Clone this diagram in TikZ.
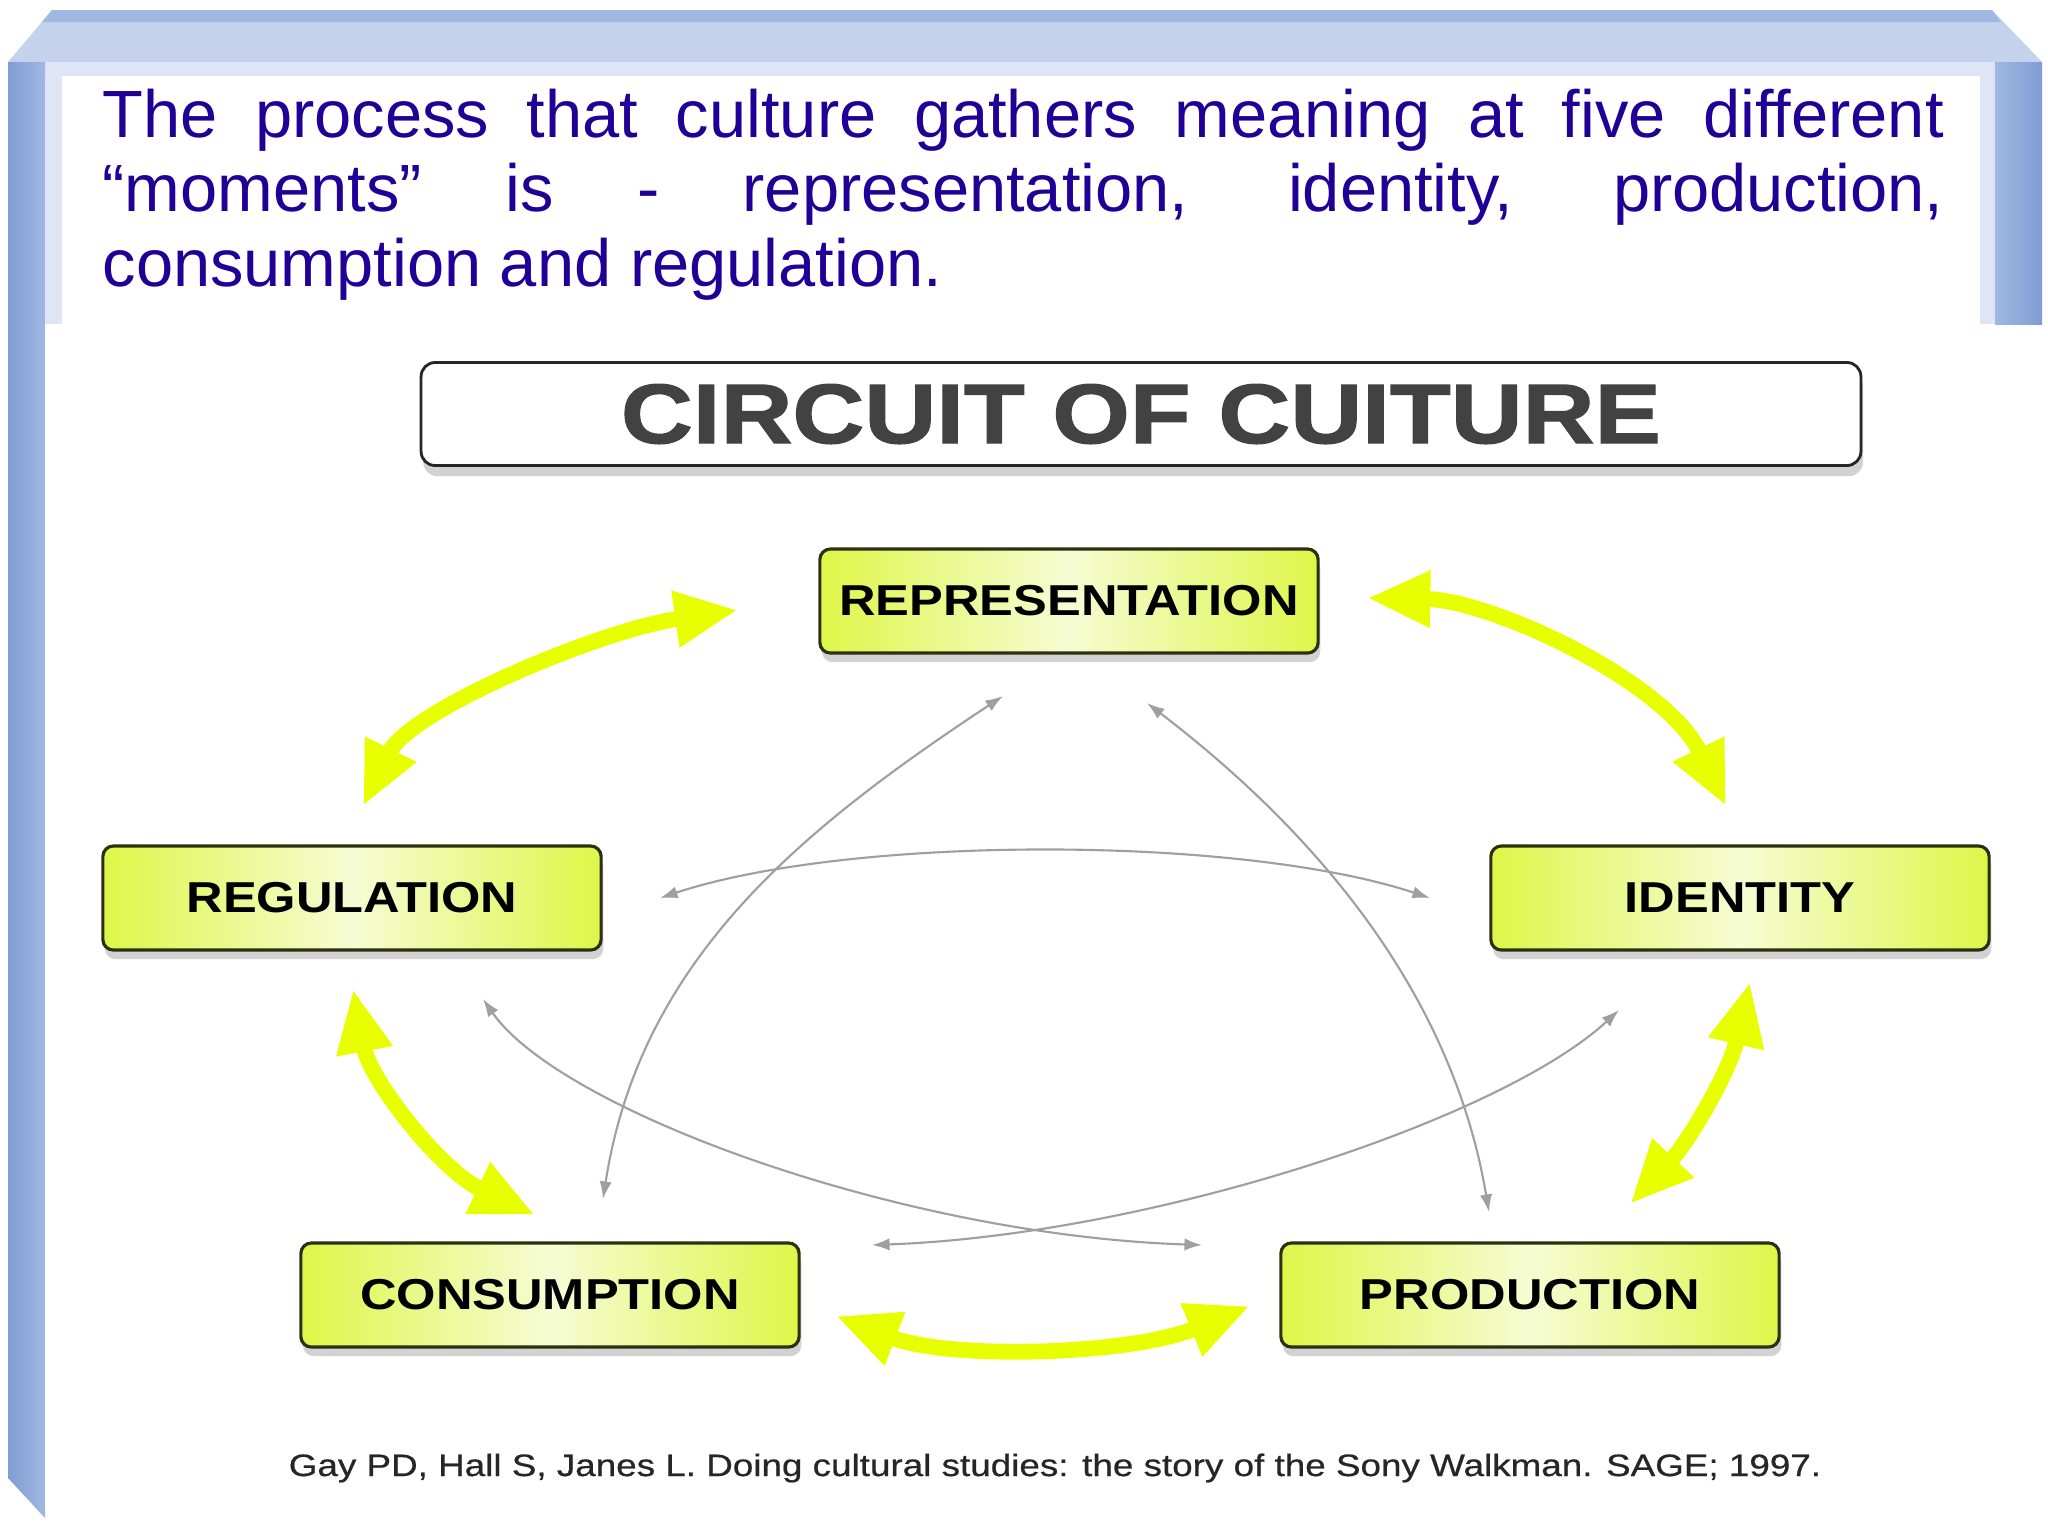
\documentclass[tikz,border=0pt]{standalone}
\usepackage{fontspec}
\setmainfont{Liberation Sans}
\newfontfamily\widebold[FakeStretch=1.17,UprightFont=* Bold]{Liberation Sans}
\newfontfamily\headfont[FakeStretch=1.18,FakeBold=1.5,UprightFont=* Bold]{Liberation Sans}
\newfontfamily\citefont[FakeStretch=1.19,FakeBold=0.6]{Liberation Sans}
\usetikzlibrary{arrows.meta,shadows}

\definecolor{slideblue}{RGB}{32,0,150}
\definecolor{framedark}{RGB}{128,156,212}
\definecolor{framemid}{RGB}{160,184,226}
\definecolor{framelight}{RGB}{196,210,236}
\definecolor{framepale}{RGB}{222,230,245}
\definecolor{boxedge}{RGB}{45,48,15}
\definecolor{boxgreen}{RGB}{222,246,72}
\definecolor{boxpale}{RGB}{246,252,212}
\definecolor{arrowyellow}{RGB}{232,255,0}
\definecolor{headgray}{RGB}{66,66,66}

\tikzset{
  moment/.style={draw=boxedge,line width=0.9pt,rounded corners=3pt,
    left color=boxgreen,right color=boxgreen,middle color=boxpale,
    minimum width=4.98cm,minimum height=1.04cm,
    drop shadow={shadow xshift=0.6pt,shadow yshift=-2.6pt,opacity=0.35},
    font=\widebold\fontsize{12.3}{14}\selectfont},
  headbox/.style={draw=black!85,line width=0.8pt,rounded corners=4pt,fill=white,
    minimum width=14.39cm,minimum height=1.03cm,text=headgray,
    drop shadow={shadow xshift=0.6pt,shadow yshift=-3pt,opacity=0.35},
    font=\headfont\fontsize{24}{28}\selectfont},
  bigarrow/.style={draw=arrowyellow,line width=4.5pt,
    {Triangle[length=18pt,width=15pt]}-{Triangle[length=18pt,width=15pt]}},
  thinarrow/.style={draw=gray!75,line width=0.6pt,
    {Latex[length=5pt,width=3.5pt]}-{Latex[length=5pt,width=3.5pt]}}
}

\begin{document}
\begin{tikzpicture}[x=0.01cm,y=-0.01cm]
\useasboundingbox (0,0) rectangle (2048,1535);
\fill[white] (0,0) rectangle (2048,1535);
% slide frame
\fill[framelight] (8,62) -- (52,10) -- (1992,10) -- (2042,62) -- cycle;
\fill[framemid] (52,10) -- (1992,10) -- (2001,22) -- (42,22) -- cycle;
\fill[framepale] (45,62) rectangle (1995,76);
\shade[left color=framedark,right color=framemid] (8,62) -- (45,62) -- (45,1518) -- (8,1478) -- cycle;
\fill[framepale] (45,76) rectangle (62,324);
\shade[left color=framemid,right color=framedark] (1995,62) -- (2042,62) -- (2042,324) -- (1995,324) -- cycle;
\fill[framepale] (1980,76) rectangle (1995,324);

\node[anchor=north west,inner sep=0,text width=18.4cm,align=justify,text=slideblue,
  font=\fontsize{19}{21.2}\selectfont] (intro) at (102,88)
  {\tolerance=10000 \hyphenpenalty=10000 \emergencystretch=0pt
   The process that culture gathers meaning at five different\linebreak
   “moments” is - representation, identity, production,\linebreak
   consumption and regulation.};

% the circuit
\node[headbox] (head) at (1141,414) {CIRCUIT OF CUITURE};

\node[moment] (rep) at (1069,601) {REPRESENTATION};
\node[moment] (reg) at (352,898) {REGULATION};
\node[moment] (ide) at (1740,898) {IDENTITY};
\node[moment] (con) at (550,1295) {CONSUMPTION};
\node[moment] (pro) at (1530,1295) {PRODUCTION};

\coordinate (regup) at (363,806);
\coordinate (repleft) at (738,610);
\coordinate (repright) at (1367,598);
\coordinate (ideup) at (1726,806);
\coordinate (idedown) at (1750,982);
\coordinate (proup) at (1630,1204);
\coordinate (regdown) at (353,989);
\coordinate (conup) at (535,1215);
\coordinate (conright) at (836,1316);
\coordinate (proleft) at (1250,1306);

\draw[bigarrow] (regup) .. controls (410,710) and (600,630) .. (repleft);
\draw[bigarrow] (repright) .. controls (1490,600) and (1665,680) .. (ideup);
\draw[bigarrow] (idedown) .. controls (1730,1070) and (1690,1140) .. (proup);
\draw[bigarrow] (regdown) .. controls (370,1080) and (440,1170) .. (conup);
\draw[bigarrow] (conright) .. controls (950,1360) and (1130,1355) .. (proleft);

\coordinate (ga1) at (1003,696);
\coordinate (ga2) at (603,1199);
\coordinate (gb1) at (1147,703);
\coordinate (gb2) at (1489,1212);
\coordinate (gc1) at (660,898);
\coordinate (gc2) at (1430,898);
\coordinate (gd1) at (483,999);
\coordinate (gd2) at (1202,1245);
\coordinate (ge1) at (1619,1010);
\coordinate (ge2) at (872,1245);

\draw[thinarrow] (ga1) .. controls (800,830) and (640,960) .. (ga2);
\draw[thinarrow] (gb1) .. controls (1300,820) and (1450,980) .. (gb2);
\draw[thinarrow] (gc1) .. controls (850,835) and (1240,835) .. (gc2);
\draw[thinarrow] (gd1) .. controls (560,1110) and (900,1235) .. (gd2);
\draw[thinarrow] (ge1) .. controls (1500,1120) and (1150,1235) .. (ge2);

\node[anchor=base,text=black!85,font=\citefont\fontsize{8.8}{10}\selectfont] (cite) at (1055,1476)
  {Gay PD, Hall S, Janes L. Doing cultural studies: the story of the Sony Walkman. SAGE; 1997.};
\end{tikzpicture}
\end{document}
